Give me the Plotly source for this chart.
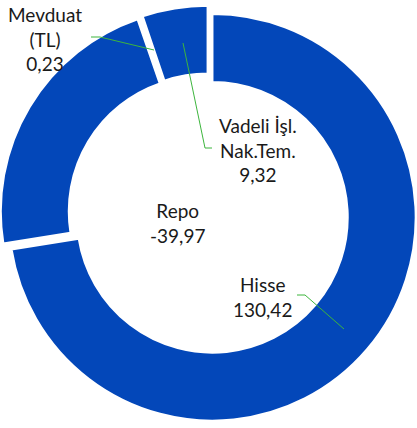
import plotly.graph_objects as go

# Data
categories = ["Hisse", "Repo", "Mevduat (TL)", "Vadeli İşl. Nak.Tem."]
label_lines = [["Hisse"], ["Repo"], ["Mevduat", "(TL)"], ["Vadeli İşl.", "Nak.Tem."]]
values = [130.42, -39.97, 0.23, 9.32]

W, H = 417, 428
color = "#0347B9"
green = "#3DB53D"

def fmt(v):
    return f"{v:.2f}".replace(".", ",")

sizes = [abs(v) for v in values]

fig = go.Figure()
fig.add_trace(go.Pie(
    labels=categories,
    values=sizes,
    sort=False,
    direction="clockwise",
    rotation=0,
    hole=0.665,
    pull=0.025,
    marker=dict(colors=[color] * len(values), line=dict(color="white", width=2.2)),
    textinfo="none",
    hoverinfo="label",
    showlegend=False,
    domain=dict(x=[0, 1], y=[(H - 422.5) / H, (H - 5.5) / H]),
))

# label positions (px) and leader lines (px)
label_pos = {
    "Hisse": (262, 297),
    "Repo": (177, 223),
    "Mevduat (TL)": (45, 39),
    "Vadeli İşl. Nak.Tem.": (258, 150),
}
leaders = {
    "Hisse": [(297, 295), (305, 295), (344, 329)],
    "Mevduat (TL)": [(91, 37), (100, 37), (154, 50)],
    "Vadeli İşl. Nak.Tem.": [(183, 43), (205, 148), (212, 148)],
}

def px(x, y):
    return x / W, 1 - y / H

for cat, lines, v in zip(categories, label_lines, values):
    x, y = label_pos[cat]
    xp, yp = px(x, y)
    fig.add_annotation(
        x=xp, y=yp, xref="paper", yref="paper",
        xanchor="center", yanchor="middle",
        text="<br>".join(lines + [fmt(v)]),
        showarrow=False, align="center",
        font=dict(family="Lato, Open Sans, sans-serif", size=19, color="#1a1a1a"),
    )

for cat, pts in leaders.items():
    path = "M " + " L ".join(f"{px(a, b)[0]},{px(a, b)[1]}" for a, b in pts)
    fig.add_shape(type="path", path=path, xref="paper", yref="paper",
                  line=dict(color=green, width=1))

fig.update_layout(
    width=W, height=H,
    margin=dict(l=0, r=0, t=0, b=0),
    paper_bgcolor="white",
    plot_bgcolor="white",
)

fig.write_html("out.html", config={"displayModeBar": False},
               post_script="document.body.style.margin='0';")
